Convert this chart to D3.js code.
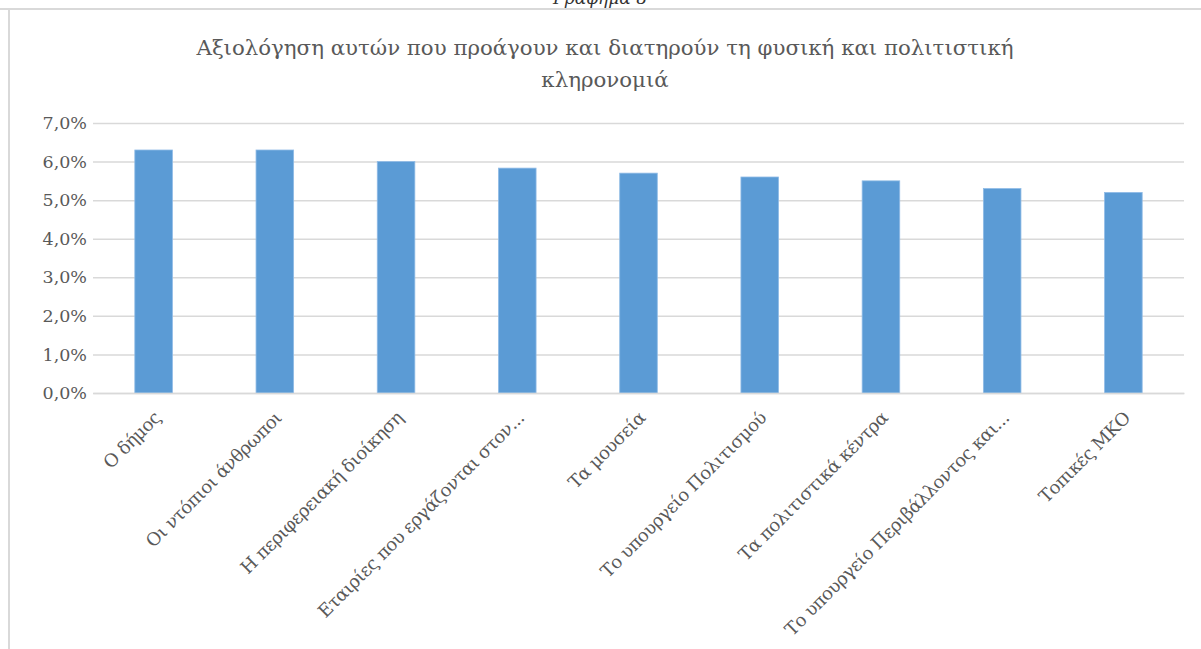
<!DOCTYPE html>
<html>
<head>
<meta charset="utf-8">
<script src="https://cdn.jsdelivr.net/npm/d3@7"></script>
<style>
  body { margin: 0; background: #fff; }
  svg text { font-family: "DejaVu Serif", serif; fill: #595959; }
</style>
</head>
<body>
<svg id="chart" width="1201" height="649"></svg>
<script>
const categories = [
  'Ο δήμος',
  'Οι ντόπιοι άνθρωποι',
  'Η περιφερειακή διοίκηση',
  'Εταιρίες που εργάζονται στον...',
  'Τα μουσεία',
  'Το υπουργείο Πολιτισμού',
  'Τα πολιτιστικά κέντρα',
  'Το υπουργείο Περιβάλλοντος και...',
  'Τοπικές ΜΚΟ'
];
const values = [6.3, 6.3, 6.0, 5.83, 5.7, 5.6, 5.5, 5.3, 5.2];
const yTicks = [0, 1, 2, 3, 4, 5, 6, 7];
const titleLines = [
  'Αξιολόγηση αυτών που προάγουν και διατηρούν τη φυσική και πολιτιστική',
  'κληρονομιά'
];
const caption = 'Γράφημα 8';

const margin = {left: 93, right: 17, top: 123, bottom: 256};
const width = 1201 - margin.left - margin.right;
const height = 649 - margin.top - margin.bottom;

const svg = d3.select('#chart');

// page frame: caption cut at top, rule and left edge of the chart box
svg.append('text')
    .attr('x', 600)
    .attr('y', 4)
    .attr('text-anchor', 'middle')
    .style('font-style', 'italic')
    .style('font-size', '17px')
    .style('fill', '#333')
    .text(caption);

svg.append('line')
    .attr('x1', 0).attr('x2', 1201)
    .attr('y1', 9).attr('y2', 9)
    .attr('stroke', '#d9d9d9')
    .attr('stroke-width', 2);

svg.append('line')
    .attr('x1', 9).attr('x2', 9)
    .attr('y1', 9).attr('y2', 649)
    .attr('stroke', '#d9d9d9')
    .attr('stroke-width', 2);

svg.append('text')
    .attr('class', 'title')
    .attr('text-anchor', 'middle')
    .style('font-size', '21.3px')
    .selectAll('tspan')
    .data(titleLines)
    .join('tspan')
    .attr('x', 605)
    .attr('y', (d, i) => 55 + i * 32)
    .text(d => d);

const g = svg.append('g')
    .attr('transform', `translate(${margin.left},${margin.top})`);

const x = d3.scaleBand()
    .domain(categories)
    .range([0, width])
    .paddingInner(0.69)
    .paddingOuter(0.345);

const y = d3.scaleLinear()
    .domain([0, 7])
    .range([height, 0]);

const yAxis = d3.axisLeft(y)
    .tickValues(yTicks)
    .tickSize(-width)
    .tickPadding(5)
    .tickFormat(d => d3.format('.1f')(d).replace('.', ',') + '%');

g.append('g')
    .attr('class', 'y axis')
    .call(yAxis)
    .call(a => a.select('.domain').remove())
    .call(a => a.selectAll('line').attr('stroke', '#d9d9d9').attr('stroke-width', 1.5))
    .call(a => a.selectAll('text')
        .attr('x', -6)
        .style('font-size', '17.5px')
        .style('font-family', '"DejaVu Serif", serif')
        .style('fill', '#595959'));

g.selectAll('.bar')
    .data(values)
    .join('rect')
    .attr('class', 'bar')
    .attr('x', (d, i) => x(categories[i]))
    .attr('width', x.bandwidth())
    .attr('y', d => y(d))
    .attr('height', d => height - y(d))
    .attr('fill', '#5b9bd5')
    .attr('stroke', '#8fbbe6')
    .attr('stroke-width', 0.8);

const xAxis = d3.axisBottom(x).tickSize(0).tickPadding(0);

g.append('g')
    .attr('class', 'x axis')
    .attr('transform', `translate(0,${height})`)
    .call(xAxis)
    .call(a => a.select('.domain').attr('stroke', '#d9d9d9').attr('stroke-width', 1.5))
    .call(a => a.selectAll('text')
        .style('font-size', '18px')
        .style('letter-spacing', '-0.4px')
        .style('font-family', '"DejaVu Serif", serif')
        .style('fill', '#595959')
        .attr('text-anchor', 'end')
        .attr('dy', 0)
        .attr('transform', 'translate(8,26) rotate(-45)'));
</script>
</body>
</html>
